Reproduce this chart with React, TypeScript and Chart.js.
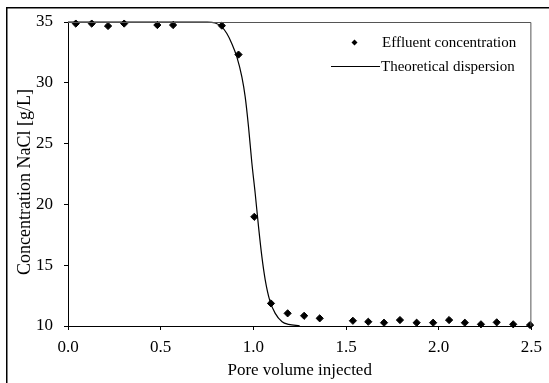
import React, { useEffect, useRef } from "react";
import { Chart, registerables } from "chart.js";

Chart.register(...registerables);

const effluentX = [0.042, 0.128, 0.216, 0.303, 0.482, 0.567, 0.83, 0.92, 1.005, 1.095, 1.185, 1.274, 1.358, 1.537, 1.62, 1.705, 1.791, 1.881, 1.97, 2.056, 2.141, 2.228, 2.313, 2.402, 2.493];
const effluentY = [34.87, 34.87, 34.67, 34.87, 34.75, 34.75, 34.7, 32.32, 18.98, 11.86, 11.04, 10.84, 10.63, 10.43, 10.35, 10.27, 10.49, 10.27, 10.27, 10.49, 10.27, 10.14, 10.3, 10.14, 10.08];

const theoryX = [0, 0.5, 0.75, 0.794, 0.83, 0.857, 0.884, 0.911, 0.938, 0.956, 0.974, 0.992, 1.01, 1.028, 1.046, 1.064, 1.088, 1.118, 1.155, 1.19, 1.25];
const theoryY = [35, 35, 34.99, 34.92, 34.6, 34.05, 33.22, 32.13, 30.48, 28.84, 26.37, 23.4, 20.9, 18.15, 15.7, 13.8, 12.13, 11.04, 10.35, 10.13, 10.02];

const legendLabels = ["Effluent concentration", "Theoretical dispersion"];
const xTitle = "Pore volume injected";
const yTitle = "Concentration NaCl [g/L]";
const FONT = "'Liberation Serif', 'Times New Roman', serif";

const decorPlugin = {
  id: "decor",
  afterDraw(chart: any) {
    const ctx = chart.ctx;
    const a = chart.chartArea;
    ctx.save();
    // outer frame (left and top only visible)
    ctx.strokeStyle = "#000";
    ctx.lineWidth = 1.5;
    ctx.beginPath();
    ctx.moveTo(6.75, chart.height + 5);
    ctx.lineTo(6.75, 7.75);
    ctx.lineTo(chart.width + 5, 7.75);
    ctx.stroke();
    // plot box top and right
    ctx.strokeStyle = "#555";
    ctx.lineWidth = 1;
    ctx.beginPath();
    ctx.moveTo(a.left, a.top + 0.5);
    ctx.lineTo(a.right - 0.5, a.top + 0.5);
    ctx.lineTo(a.right - 0.5, a.bottom);
    ctx.stroke();
    // y title
    ctx.fillStyle = "#000";
    ctx.font = `18px ${FONT}`;
    ctx.translate(30, 182);
    ctx.rotate(-Math.PI / 2);
    ctx.textAlign = "center";
    ctx.textBaseline = "alphabetic";
    ctx.fillText(yTitle, 0, 0);
    ctx.restore();

    // legend
    ctx.save();
    ctx.fillStyle = "#000";
    ctx.strokeStyle = "#000";
    ctx.font = `15px ${FONT}`;
    ctx.textAlign = "left";
    ctx.textBaseline = "middle";
    const dx = 354.5, dy = 42.5, r = 3;
    ctx.beginPath();
    ctx.moveTo(dx, dy - r);
    ctx.lineTo(dx + r, dy);
    ctx.lineTo(dx, dy + r);
    ctx.lineTo(dx - r, dy);
    ctx.closePath();
    ctx.fill();
    ctx.fillText(legendLabels[0], 382, 43);
    ctx.lineWidth = 1.2;
    ctx.beginPath();
    ctx.moveTo(331, 66.5);
    ctx.lineTo(380, 66.5);
    ctx.stroke();
    ctx.fillText(legendLabels[1], 381, 67);
    ctx.restore();
  },
};

export default function App() {
  const ref = useRef<HTMLCanvasElement>(null);
  useEffect(() => {
    document.body.style.margin = "0";
    const canvas = ref.current!;
    const chart = new Chart(canvas, {
      type: "scatter",
      data: {
        datasets: [
          {
            label: legendLabels[1],
            data: theoryX.map((x, i) => ({ x, y: theoryY[i] })),
            showLine: true,
            borderColor: "#000",
            borderWidth: 1.2,
            pointRadius: 0,
            cubicInterpolationMode: "monotone",
            clip: false as any,
          } as any,
          {
            label: legendLabels[0],
            data: effluentX.map((x, i) => ({ x, y: effluentY[i] })),
            pointStyle: "rectRot",
            pointRadius: 3.6,
            pointBorderWidth: 1,
            backgroundColor: "#000",
            borderColor: "#000",
            clip: false as any,
          } as any,
        ],
      },
      plugins: [decorPlugin],
      options: {
        animation: false,
        responsive: false,
        devicePixelRatio: 1,
        layout: { padding: { left: 0, top: 22, right: 17, bottom: 0 } },
        plugins: { legend: { display: false }, tooltip: { enabled: false } },
        scales: {
          x: {
            type: "linear",
            min: 0,
            max: 2.5,
            afterFit: (s: any) => { s.height = 57; },
            ticks: {
              stepSize: 0.5,
              color: "#000",
              padding: 7,
              font: { family: FONT, size: 17 },
              callback: (v: any) => Number(v).toFixed(1),
            },
            grid: { drawOnChartArea: false, drawTicks: true, tickLength: 4, color: "#000" },
            border: { color: "#000", width: 1 },
            title: {
              display: true,
              text: xTitle,
              color: "#000",
              font: { family: FONT, size: 17 },
              padding: { top: 0, bottom: 2 },
            },
          },
          y: {
            type: "linear",
            min: 10,
            max: 35,
            afterFit: (s: any) => { s.width = 68; },
            ticks: {
              stepSize: 5,
              color: "#000",
              padding: 11,
              font: { family: FONT, size: 17 },
            },
            grid: { drawOnChartArea: false, drawTicks: true, tickLength: 4, color: "#000" },
            border: { color: "#000", width: 1 },
          },
        },
      } as any,
    });
    return () => chart.destroy();
  }, []);
  return (
    <div style={{ width: 549, height: 383, position: "relative", overflow: "hidden", background: "#fff" }}>
      <canvas ref={ref} width={549} height={383} style={{ width: 549, height: 383, display: "block" }} />
    </div>
  );
}
